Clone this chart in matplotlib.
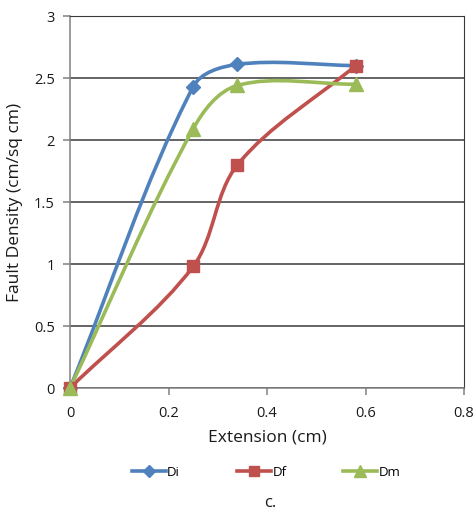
import numpy as np
import matplotlib
matplotlib.use("Agg")
import matplotlib.pyplot as plt
from matplotlib.path import Path
from matplotlib.patches import PathPatch
from matplotlib.lines import Line2D

plt.rcParams['font.family'] = ['Open Sans', 'DejaVu Sans']

# data
extension = [0, 0.25, 0.34, 0.58]
d_i = [0, 2.43, 2.61, 2.60]
d_f = [0, 0.98, 1.80, 2.60]
d_m = [0, 2.09, 2.44, 2.45]
series_names = ['Di', 'Df', 'Dm']
colors = ['#4F81BD', '#C0504D', '#9BBB59']
markers = ['D', 's', '^']
msizes = [7.5, 9, 10]


def smooth_path(ax, x, y, t=0.33):
    """Excel style smoothed line, built in screen space then mapped back to data"""
    pts = ax.transData.transform(np.column_stack([x, y]).astype(float))
    n = len(pts)
    tang = []
    for i in range(n):
        d = pts[min(i + 1, n - 1)] - pts[max(i - 1, 0)]
        tang.append(d / np.hypot(*d))
    verts = [pts[0]]
    codes = [Path.MOVETO]
    for i in range(n - 1):
        seg = np.hypot(*(pts[i + 1] - pts[i]))
        c1 = pts[i] + tang[i] * seg * t
        c2 = pts[i + 1] - tang[i + 1] * seg * t
        verts += [c1, c2, pts[i + 1]]
        codes += [Path.CURVE4] * 3
    verts = ax.transData.inverted().transform(np.array(verts))
    return Path(verts, codes)


fig = plt.figure(figsize=(4.77, 5.15), dpi=100)
ax = fig.add_axes([0.1468, 0.2466, 0.826, 0.7223])
ax.set_xlim(0, 0.8)
ax.set_ylim(0, 3)

handles = []
for ys, name, c, m, ms in zip([d_i, d_f, d_m], series_names, colors, markers, msizes):
    ax.add_patch(PathPatch(smooth_path(ax, extension, ys), facecolor='none',
                           edgecolor=c, lw=2.6, clip_on=False, zorder=3))
    ax.plot(extension, ys, ls='none', marker=m, ms=ms, color=c,
            clip_on=False, zorder=4)
    handles.append(Line2D([], [], color=c, lw=2.6, marker=m, ms=ms * 0.8))

ax.set_xticks([0, 0.2, 0.4, 0.6, 0.8])
ax.set_xticklabels(['0', '0.2', '0.4', '0.6', '0.8'])
ax.set_yticks([0, 0.5, 1, 1.5, 2, 2.5, 3])
ax.set_yticklabels(['0', '0.5', '1', '1.5', '2', '2.5', '3'])
ax.yaxis.grid(True, color='#3a3a3a', lw=1.1)
ax.set_axisbelow(True)
for s in ['left', 'bottom']:
    ax.spines[s].set_color('#808080')
    ax.spines[s].set_linewidth(1.1)
ax.spines['right'].set_color('#3a3a3a')
ax.spines['top'].set_color('#3a3a3a')
ax.tick_params(axis='both', direction='out', length=5, width=1.1,
               colors='#808080', labelcolor='#1a1a1a', labelsize=10.5, pad=6)
ax.tick_params(axis='x', pad=8)

ax.set_xlabel('Extension (cm)', fontsize=12.5, color='#1a1a1a', labelpad=6)
ax.set_ylabel('Fault Density (cm/sq cm)', fontsize=12.5, color='#1a1a1a', labelpad=8)

fig.legend(handles, series_names, loc='center left', bbox_to_anchor=(0.262, 0.083),
           ncol=3, frameon=False, fontsize=9.5, handlelength=2.6,
           columnspacing=4.3, handletextpad=0.1, borderpad=0)
fig.text(0.566, 0.023, 'c.', fontsize=12, color='#1a1a1a', ha='center', va='center')

fig.savefig('out.png', dpi=100)
